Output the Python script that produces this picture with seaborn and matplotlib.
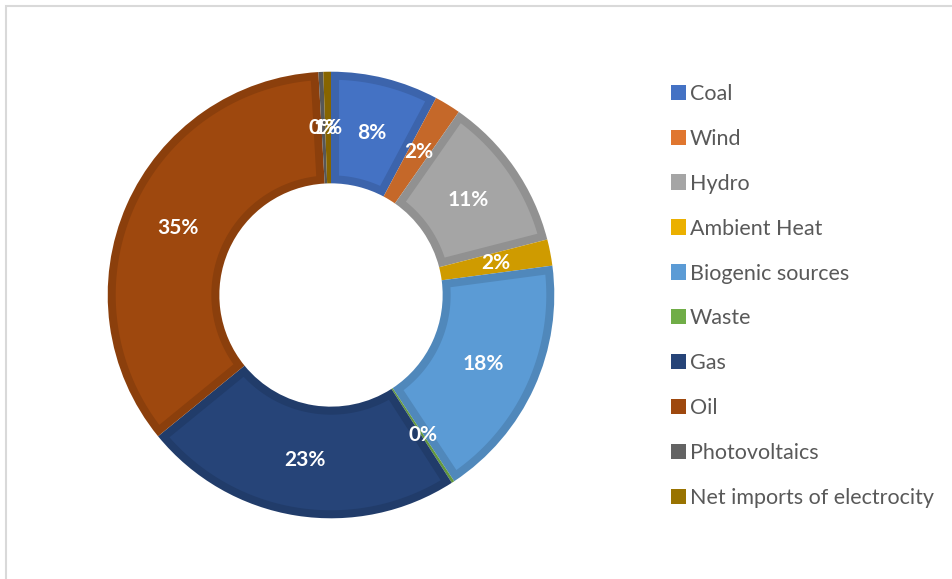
import matplotlib
matplotlib.use("Agg")
import numpy as np
import matplotlib.pyplot as plt
import matplotlib.colors as mcolors
from matplotlib.patches import Rectangle, Polygon
import seaborn as sns

# ---- data ----
categories = ["Coal", "Wind", "Hydro", "Ambient Heat", "Biogenic sources",
              "Waste", "Gas", "Oil", "Photovoltaics", "Net imports of electrocity"]
shares = [7.8, 1.9, 11.3, 1.9, 17.8, 0.2, 23.2, 35.0, 0.35, 0.55]
labels = ["8%", "2%", "11%", "2%", "18%", "0%", "23%", "35%", "0%", "1%"]
colors = ["#4472C4", "#E0762F", "#A5A5A5", "#EBB000", "#5B9BD5",
          "#70AD47", "#264478", "#9E480E", "#636363", "#997300"]

sns.set_theme(style="white")
plt.rcParams["font.family"] = ["Lato", "DejaVu Sans"]

W, H = 953, 579
fig = plt.figure(figsize=(W / 100, H / 100), dpi=100)

# light frame (chart area border)
fig.patches.append(Rectangle((6 / W, -0.1), 1.2, (H - 6) / H + 0.1,
                             transform=fig.transFigure, fill=False,
                             edgecolor="#D9D9D9", linewidth=1.5))

cx, cy, half = 331, 295, 230
ax = fig.add_axes([(cx - half) / W, (H - cy - half) / H, 2 * half / W, 2 * half / H])

darker = [tuple(c * 0.88 for c in mcolors.to_rgb(col)) for col in colors]

R_OUT, WIDTH = 1.0, 0.5
wedges, texts = ax.pie(
    shares, colors=darker, startangle=90, counterclock=False,
    radius=R_OUT, labels=labels, labeldistance=0.75,
    wedgeprops=dict(width=WIDTH, linewidth=0),
    textprops=dict(color="white", fontsize=15, fontweight="bold",
                   ha="center", va="center", zorder=5),
)

# inner (lighter) face inset by a constant border width, Excel-style
d = 8 / 223
ro, ri = R_OUT - d, R_OUT - WIDTH + d
for w, col in zip(wedges, colors):
    t1, t2 = np.radians(w.theta1), np.radians(w.theta2)
    a_o1, a_o2 = t1 + np.arcsin(d / ro), t2 - np.arcsin(d / ro)
    a_i1, a_i2 = t1 + np.arcsin(d / ri), t2 - np.arcsin(d / ri)
    if a_i2 <= a_i1:
        continue
    outer = np.linspace(a_o1, a_o2, 80)
    inner = np.linspace(a_i2, a_i1, 80)
    pts = np.concatenate([np.c_[ro * np.cos(outer), ro * np.sin(outer)],
                          np.c_[ri * np.cos(inner), ri * np.sin(inner)]])
    ax.add_patch(Polygon(pts, closed=True, facecolor=col, edgecolor="none", zorder=2))

ax.set_xlim(-1.03, 1.03)
ax.set_ylim(-1.03, 1.03)
ax.set_aspect("equal")
ax.axis("off")

handles = [Rectangle((0, 0), 1, 1, facecolor=c, edgecolor="none") for c in colors]
leg = fig.legend(handles, categories, loc="upper left",
                 bbox_to_anchor=(662 / W, 1 - 75 / H),
                 frameon=False, fontsize=15.5, labelcolor="#595959",
                 handlelength=0.7, handleheight=0.7, handletextpad=0.2,
                 labelspacing=1.16, borderaxespad=0)

fig.savefig("out.png", dpi=100)
